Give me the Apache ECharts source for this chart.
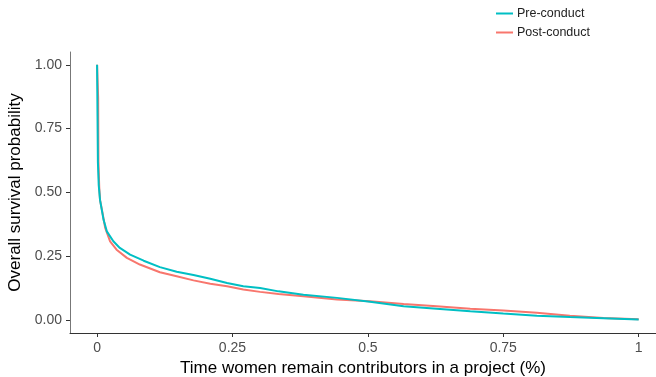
<!DOCTYPE html>
<html>
<head>
<meta charset="utf-8">
<script src="https://cdn.jsdelivr.net/npm/echarts@6/dist/echarts.min.js"></script>
<style>
  html, body { margin: 0; padding: 0; background: #fff; }
  #chart { width: 656px; height: 377px; }
</style>
</head>
<body>
<div id="chart"></div>
<script>
  // survival curves: [time fraction, survival probability]
  const preConduct = [
    [0, 1.0], [0.0008, 0.8], [0.0015, 0.62], [0.003, 0.53], [0.0055, 0.47],
    [0.012, 0.393], [0.018, 0.348], [0.030, 0.309], [0.042, 0.283], [0.061, 0.257],
    [0.086, 0.233], [0.116, 0.208], [0.147, 0.190], [0.178, 0.177], [0.209, 0.162],
    [0.240, 0.146], [0.270, 0.133], [0.301, 0.126], [0.335, 0.113], [0.381, 0.100],
    [0.443, 0.0875], [0.504, 0.072], [0.566, 0.055], [0.627, 0.045], [0.689, 0.035],
    [0.750, 0.026], [0.812, 0.018], [0.873, 0.013], [0.935, 0.008], [1.0, 0.003]
  ];
  const postConduct = [
    [0, 1.0], [0.002, 0.87], [0.0025, 0.62], [0.004, 0.52], [0.0055, 0.47],
    [0.009, 0.432], [0.015, 0.361], [0.024, 0.309], [0.036, 0.276], [0.055, 0.244],
    [0.079, 0.218], [0.116, 0.188], [0.147, 0.172], [0.178, 0.156], [0.209, 0.143],
    [0.240, 0.133], [0.270, 0.120], [0.301, 0.111], [0.335, 0.103], [0.381, 0.094],
    [0.443, 0.081], [0.504, 0.074], [0.566, 0.064], [0.627, 0.055], [0.689, 0.045],
    [0.750, 0.038], [0.812, 0.029], [0.873, 0.018], [0.935, 0.009], [1.0, 0.004]
  ];
  const xTicks = [0, 0.25, 0.5, 0.75, 1];
  const yTicks = [0, 0.25, 0.5, 0.75, 1];

  const myChart = echarts.init(document.getElementById('chart'));
  myChart.setOption({
    animation: false,
    textStyle: { fontFamily: 'Liberation Sans, Arial, sans-serif' },
    legend: {
      orient: 'vertical',
      left: 496,
      top: 7,
      padding: 0,
      itemWidth: 17,
      itemHeight: 2,
      itemGap: 6,
      icon: 'rect',
      textStyle: { fontSize: 12.5, color: '#222', padding: [0, 0, 0, -1] },
      data: ['Pre-conduct', 'Post-conduct']
    },
    grid: { left: 70, top: 52, right: 0, bottom: 44, outerBoundsMode: 'none' },
    xAxis: {
      type: 'value',
      min: -0.05,
      max: 1.032,
      name: 'Time women remain contributors in a project (%)',
      nameLocation: 'middle',
      nameGap: 27,
      nameTextStyle: { fontSize: 17, color: '#000' },
      axisLine: { onZero: false, lineStyle: { color: '#333', width: 1 } },
      axisTick: { show: true, length: 4, lineStyle: { color: '#333' }, customValues: xTicks },
      axisLabel: {
        customValues: xTicks, fontSize: 14, color: '#4d4d4d', margin: 8,
        formatter: v => String(v)
      },
      splitLine: { show: false }
    },
    yAxis: {
      type: 'value',
      min: -0.05,
      max: 1.05,
      name: 'Overall survival probability',
      nameLocation: 'middle',
      nameGap: 45,
      nameTextStyle: { fontSize: 17, color: '#000' },
      axisLine: { show: true, onZero: false, lineStyle: { color: '#777', width: 1 } },
      axisTick: { show: true, length: 4, lineStyle: { color: '#333' }, customValues: yTicks },
      axisLabel: {
        customValues: yTicks, fontSize: 14, color: '#4d4d4d', margin: 8,
        formatter: v => v.toFixed(2)
      },
      splitLine: { show: false }
    },
    series: [
      {
        name: 'Post-conduct', type: 'line', data: postConduct, showSymbol: false,
        lineStyle: { color: '#F8766D', width: 2 }, itemStyle: { color: '#F8766D' }, z: 2
      },
      {
        name: 'Pre-conduct', type: 'line', data: preConduct, showSymbol: false,
        lineStyle: { color: '#00BFC4', width: 2 }, itemStyle: { color: '#00BFC4' }, z: 3
      }
    ]
  });
</script>
</body>
</html>
